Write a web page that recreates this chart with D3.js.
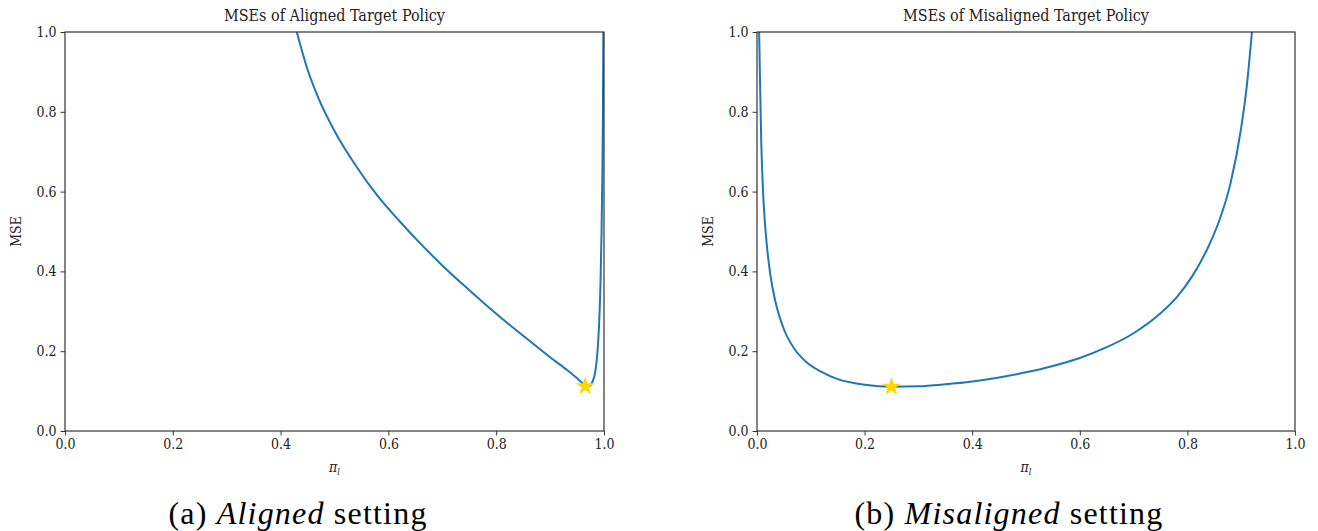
<!DOCTYPE html>
<html><head><meta charset="utf-8">
<script src="https://cdn.jsdelivr.net/npm/d3@7"></script>
<style>
body{margin:0;background:#fff;}
svg{display:block;}
.tick text{font-family:"DejaVu Serif Condensed","DejaVu Serif",serif;font-stretch:condensed;}
</style></head>
<body><svg id="c" width="1318" height="531"></svg>
<script>
// Aligned target policy curve
const alignedX = [0.43,0.45,0.47,0.50,0.54,0.58,0.62,0.66,0.70,0.74,0.78,0.82,0.86,0.90,0.93,0.95,0.958,0.965,0.972,0.979,0.984,0.988,0.991,0.9935,0.9955,0.997,0.998,0.9988];
const alignedY = [1.00,0.906,0.835,0.752,0.664,0.589,0.527,0.469,0.415,0.365,0.317,0.2715,0.228,0.185,0.1545,0.132,0.122,0.113,0.112,0.125,0.15,0.2,0.27,0.37,0.5,0.65,0.8,1.0];
const alignedBest = [0.965, 0.112];
// Misaligned target policy curve
const misX = [0.004,0.006,0.008,0.012,0.018,0.025,0.035,0.05,0.07,0.09,0.12,0.15,0.2,0.25,0.3,0.35,0.4,0.45,0.5,0.55,0.6,0.65,0.7,0.75,0.78,0.81,0.84,0.86,0.88,0.9,0.91,0.92];
const misY = [1.0,0.85,0.72,0.58,0.47,0.39,0.32,0.255,0.205,0.175,0.148,0.13,0.116,0.111,0.112,0.117,0.124,0.134,0.147,0.163,0.183,0.21,0.245,0.295,0.335,0.39,0.465,0.53,0.62,0.76,0.86,1.0];
const misBest = [0.25, 0.111];
const tickVals = [0.0,0.2,0.4,0.6,0.8,1.0];
const titles = ["MSEs of Aligned Target Policy","MSEs of Misaligned Target Policy"];
const captions = [["(a) ","Aligned"," setting"],["(b) ","Misaligned"," setting"]];

const svg = d3.select("#c");
const panels = [
  {x0:65, x1:604, xs:alignedX, ys:alignedY, best:alignedBest, title:titles[0], cap:captions[0], capX:298},
  {x0:757, x1:1295, xs:misX, ys:misY, best:misBest, title:titles[1], cap:captions[1], capX:1009}
];
const yTop = 32, yBot = 431;
const tickFont = "'DejaVu Serif Condensed','DejaVu Serif',serif";

panels.forEach((p,i)=>{
  const x = d3.scaleLinear().domain([0,1]).range([p.x0,p.x1]);
  const y = d3.scaleLinear().domain([0,1]).range([yBot,yTop]);
  const g = svg.append("g");
  const cid = "clip"+i;
  svg.append("clipPath").attr("id",cid).append("rect")
    .attr("x",p.x0).attr("y",yTop).attr("width",p.x1-p.x0).attr("height",yBot-yTop);
  const data = p.xs.map((v,k)=>[v,p.ys[k]]);
  g.append("path").datum(data)
    .attr("clip-path","url(#"+cid+")")
    .attr("fill","none").attr("stroke","#1f77b4").attr("stroke-width",2)
    .attr("d", d3.line().x(d=>x(d[0])).y(d=>y(d[1])).curve(d3.curveMonotoneX));
  g.append("path")
    .attr("d", d3.symbol().type(d3.symbolStar).size(110)())
    .attr("transform",`translate(${x(p.best[0])},${y(p.best[1])})`)
    .attr("fill","#FFD700");
  // frame
  g.append("rect").attr("x",p.x0).attr("y",yTop).attr("width",p.x1-p.x0).attr("height",yBot-yTop)
    .attr("fill","none").attr("stroke","#333").attr("stroke-width",1.2);
  const xa = g.append("g").attr("transform",`translate(0,${yBot})`)
    .call(d3.axisBottom(x).tickValues(tickVals).tickFormat(d3.format(".1f")).tickSize(4.5).tickPadding(4));
  const ya = g.append("g").attr("transform",`translate(${p.x0},0)`)
    .call(d3.axisLeft(y).tickValues(tickVals).tickFormat(d3.format(".1f")).tickSize(4.5).tickPadding(4));
  [xa,ya].forEach(a=>{
    a.select(".domain").remove();
    a.selectAll(".tick line").attr("stroke","#333");
    a.selectAll(".tick text").attr("font-family",tickFont).attr("font-size",14).attr("fill","#222");
  });
  g.append("text").attr("x",(p.x0+p.x1)/2).attr("y",21).attr("text-anchor","middle")
    .attr("font-family",tickFont).attr("font-size",16).attr("fill","#222").text(p.title);
  g.append("text").attr("transform",`translate(${p.x0-44},${(yTop+yBot)/2}) rotate(-90)`)
    .attr("text-anchor","middle").attr("font-family",tickFont).attr("font-size",14).attr("fill","#222").text("MSE");
  const xl = g.append("text").attr("x",(p.x0+p.x1)/2).attr("y",472).attr("text-anchor","middle")
    .attr("font-family",tickFont).attr("font-size",14).attr("fill","#222");
  xl.append("tspan").attr("font-style","italic").text("π");
  xl.append("tspan").attr("font-style","italic").attr("font-size",9).attr("dy",3).text("l");
  const cap = g.append("text").attr("x",p.capX).attr("y",524).attr("text-anchor","middle")
    .attr("font-family","'Liberation Serif','Times New Roman',serif").attr("font-size",32)
    .attr("letter-spacing",1.2).attr("fill","#000");
  cap.append("tspan").text(p.cap[0]);
  cap.append("tspan").attr("font-style","italic").text(p.cap[1]);
  cap.append("tspan").text(p.cap[2]);
});
</script></body></html>
